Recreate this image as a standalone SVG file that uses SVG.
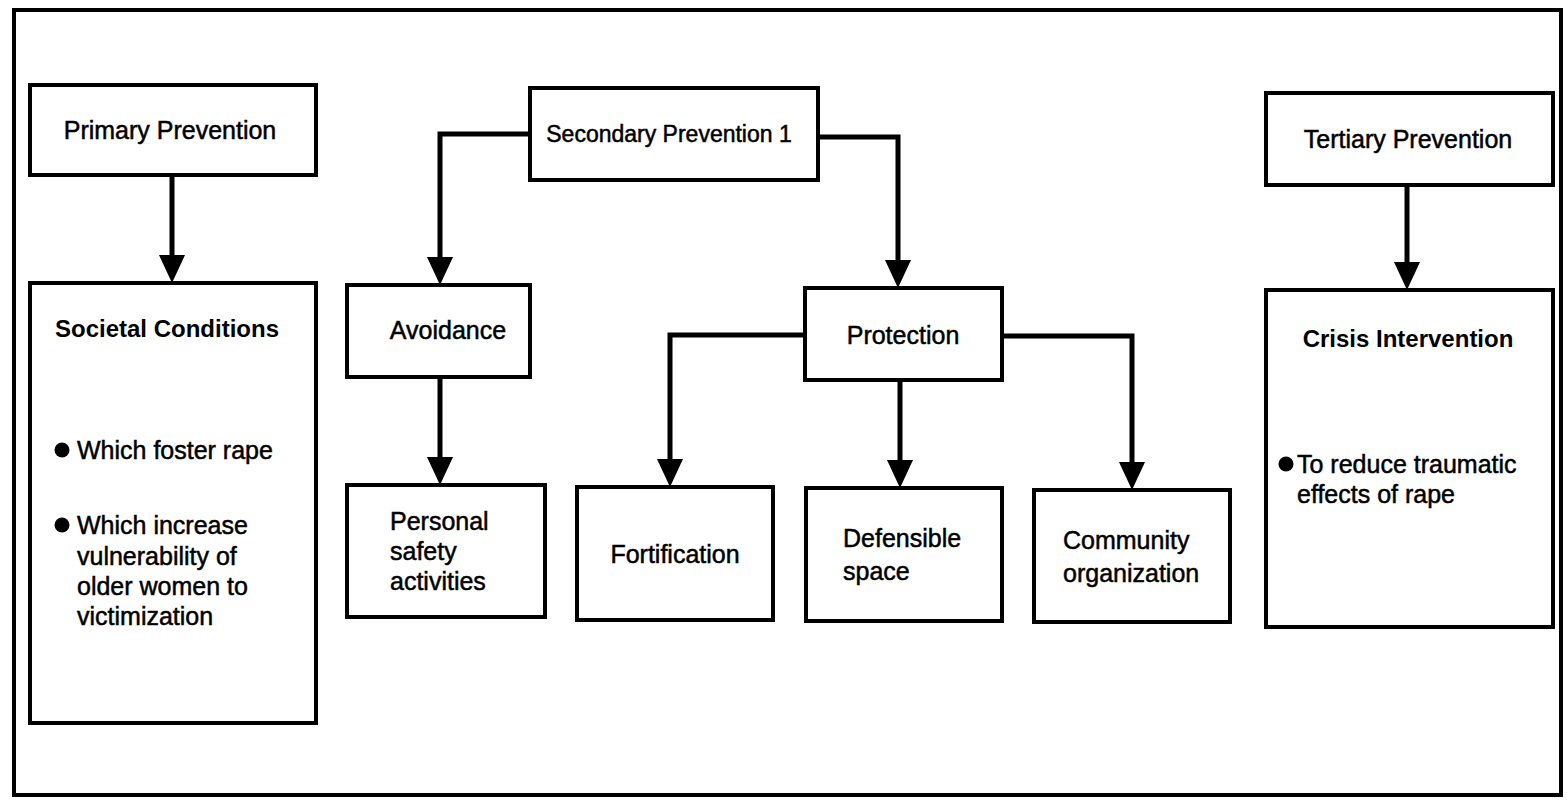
<svg xmlns="http://www.w3.org/2000/svg" width="1567" height="805" viewBox="0 0 1567 805">
<style>
.frame{fill:none;stroke:#000;stroke-width:4}
.box{fill:#fff;stroke:#000;stroke-width:4}
.conn{fill:none;stroke:#000;stroke-width:5;stroke-linejoin:miter}
.t{font-family:"Liberation Sans",Arial,sans-serif;font-size:25px;fill:#000;stroke:#000;stroke-width:0.5}
.b{font-family:"Liberation Sans",Arial,sans-serif;font-size:24px;font-weight:bold;fill:#000}
.m{text-anchor:middle}
</style>
<defs>
<marker id="ah" markerUnits="userSpaceOnUse" markerWidth="28" markerHeight="26" viewBox="0 0 28 26" refX="6" refY="13" orient="auto">
<path d="M0,0 L28,13 L0,26 Z" fill="#000"/>
</marker>
</defs>
<rect x="0" y="0" width="1567" height="805" fill="#fff"/>
<rect class="frame" x="14" y="10" width="1547" height="785"/>
<g id="connectors">
<path class="conn" d="M172,175 V261" marker-end="url(#ah)"/>
<path class="conn" d="M530,134 H440 V263" marker-end="url(#ah)"/>
<path class="conn" d="M818,137 H898 V266" marker-end="url(#ah)"/>
<path class="conn" d="M440,377 V463" marker-end="url(#ah)"/>
<path class="conn" d="M805,335 H670 V465" marker-end="url(#ah)"/>
<path class="conn" d="M900,380 V466" marker-end="url(#ah)"/>
<path class="conn" d="M1002,336 H1132 V468" marker-end="url(#ah)"/>
<path class="conn" d="M1407,185 V268" marker-end="url(#ah)"/>
</g>
<g id="primary">
<rect class="box" x="30" y="85" width="286" height="90"/>
<text class="t m" x="170" y="139">Primary Prevention</text>
</g>
<g id="societal">
<rect class="box" x="30" y="283" width="286" height="440"/>
<text class="b" x="55" y="337">Societal Conditions</text>
<circle cx="62" cy="450" r="7.5"/>
<text class="t" x="77" y="459">Which foster rape</text>
<circle cx="62" cy="525" r="7.5"/>
<text class="t" x="77" y="534">Which increase</text>
<text class="t" x="77" y="565">vulnerability of</text>
<text class="t" x="77" y="595">older women to</text>
<text class="t" x="77" y="625">victimization</text>
</g>
<g id="secondary">
<rect class="box" x="530" y="88" width="288" height="92"/>
<text class="t m" x="669" y="142" style="font-size:23px">Secondary Prevention 1</text>
</g>
<g id="avoidance">
<rect class="box" x="347" y="285" width="183" height="92"/>
<text class="t m" x="448" y="339">Avoidance</text>
</g>
<g id="personal">
<rect class="box" x="347" y="485" width="198" height="132"/>
<text class="t" x="390" y="530">Personal</text>
<text class="t" x="390" y="560">safety</text>
<text class="t" x="390" y="590">activities</text>
</g>
<g id="protection">
<rect class="box" x="805" y="288" width="197" height="92"/>
<text class="t m" x="903" y="344">Protection</text>
</g>
<g id="fortification">
<rect class="box" x="577" y="487" width="196" height="133"/>
<text class="t m" x="675" y="563">Fortification</text>
</g>
<g id="defensible">
<rect class="box" x="806" y="488" width="196" height="133"/>
<text class="t" x="843" y="547">Defensible</text>
<text class="t" x="843" y="580">space</text>
</g>
<g id="community">
<rect class="box" x="1034" y="490" width="196" height="132"/>
<text class="t" x="1063" y="549">Community</text>
<text class="t" x="1063" y="582">organization</text>
</g>
<g id="tertiary">
<rect class="box" x="1266" y="93" width="287" height="92"/>
<text class="t m" x="1408" y="148">Tertiary Prevention</text>
</g>
<g id="crisis">
<rect class="box" x="1266" y="290" width="287" height="337"/>
<text class="b m" x="1408" y="347">Crisis Intervention</text>
<circle cx="1286" cy="464" r="7.5"/>
<text class="t" x="1297" y="473">To reduce traumatic</text>
<text class="t" x="1297" y="503">effects of rape</text>
</g>
</svg>
